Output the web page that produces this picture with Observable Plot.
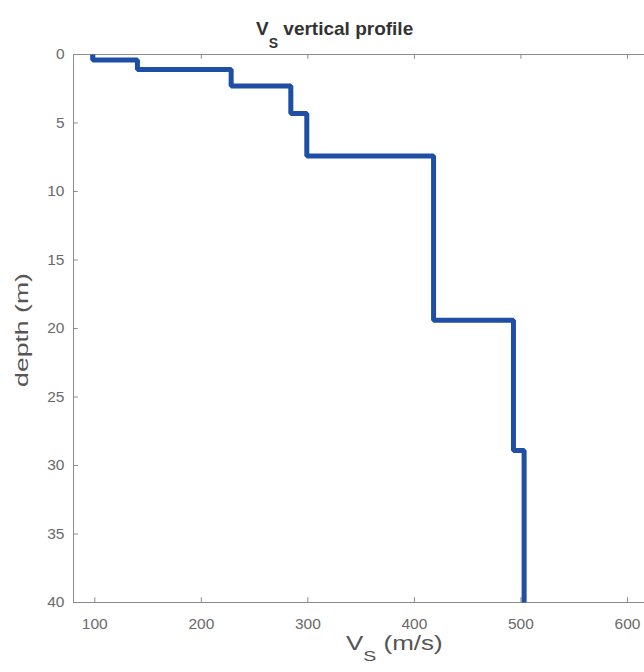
<!DOCTYPE html>
<html>
<head>
<meta charset="utf-8">
<script src="https://cdn.jsdelivr.net/npm/d3@7"></script>
<script src="https://cdn.jsdelivr.net/npm/@observablehq/plot@0.6"></script>
<style>
  html, body { margin: 0; padding: 0; background: #fff; }
  #chart { width: 644px; height: 672px; }
</style>
</head>
<body>
<div id="chart"></div>
<script>
// Layer shear-wave velocities (m/s), top to bottom
const vsValues = [98, 140, 228, 284, 299, 418, 493, 503];
// Layer boundary depths (m): top of each layer, then bottom of profile
const layerDepths = [0, 0.4, 1.1, 2.3, 4.3, 7.4, 19.4, 28.9, 40];
const xTicks = [100, 200, 300, 400, 500, 600];
const yTicks = [0, 5, 10, 15, 20, 25, 30, 35, 40];
const xDomain = [80, 616];
const yDomain = [0, 40];

const profile = layerDepths.map((d, i) => ({
  vs: vsValues[Math.min(i, vsValues.length - 1)],
  depth: d
}));

const axisColor = "#8c8c8c";
const tickText = "#6a6a6a";
const font = "Liberation Sans, Arial, sans-serif";

const plot = Plot.plot({
  width: 644,
  height: 672,
  marginLeft: 73,
  marginRight: 0,
  marginTop: 54,
  marginBottom: 70,
  style: { fontFamily: font, fontSize: "15.5px", background: "#fff" },
  x: { domain: xDomain, ticks: xTicks, label: null },
  y: { domain: yDomain, ticks: yTicks, reverse: true, label: null },
  marks: [
    Plot.axisX(xTicks, { anchor: "bottom", tickSize: 0, tickPadding: 15, fill: tickText, fontSize: 15.5 }),
    Plot.axisY(yTicks, { anchor: "left", tickSize: 0, tickPadding: 9, fill: tickText, fontSize: 15.5 }),
    // inward tick marks
    Plot.ruleX(xTicks, { x: d => d, y1: yDomain[1], y2: yDomain[1] - 0.35, stroke: axisColor }),
    Plot.ruleX(xTicks, { x: d => d, y1: yDomain[0], y2: yDomain[0] + 0.35, stroke: axisColor }),
    Plot.ruleY(yTicks, { y: d => d, x1: xDomain[0], x2: xDomain[0] + 4.5, stroke: axisColor }),
    // frame
    Plot.ruleY([yDomain[0]], { stroke: axisColor }),
    Plot.ruleY([yDomain[1]], { stroke: axisColor }),
    Plot.ruleX([xDomain[0]], { stroke: axisColor }),
    // profile
    Plot.line(profile, {
      x: "vs", y: "depth", curve: "step-before",
      stroke: "#1f4ea6", strokeWidth: 5, strokeLinejoin: "miter", strokeLinecap: "butt"
    })
  ]
});

document.getElementById("chart").appendChild(plot);

const svg = d3.select(plot);

// Title
const title = svg.append("text")
  .attr("x", 256).attr("y", 35)
  .attr("text-anchor", "start")
  .attr("font-family", font).attr("font-weight", "bold")
  .attr("font-size", 19).attr("fill", "#333");
title.append("tspan").text("V");
title.append("tspan").attr("font-size", 14).attr("dy", 13).text("S");
title.append("tspan").attr("dy", -13).text(" vertical profile");

// x label
const xl = svg.append("text")
  .attr("transform", "translate(346,650) scale(1.3,1)")
  .attr("text-anchor", "start")
  .attr("font-family", font)
  .attr("font-size", 20).attr("fill", "#555");
xl.append("tspan").text("V");
xl.append("tspan").attr("font-size", 15).attr("dy", 11).text("S");
xl.append("tspan").attr("dy", -11).text(" (m/s)");

// y label
svg.append("text")
  .attr("transform", "translate(28,330) rotate(-90) scale(1.4,1)")
  .attr("text-anchor", "middle")
  .attr("font-family", font)
  .attr("font-size", 19).attr("fill", "#555")
  .text("depth (m)");
</script>
</body>
</html>
